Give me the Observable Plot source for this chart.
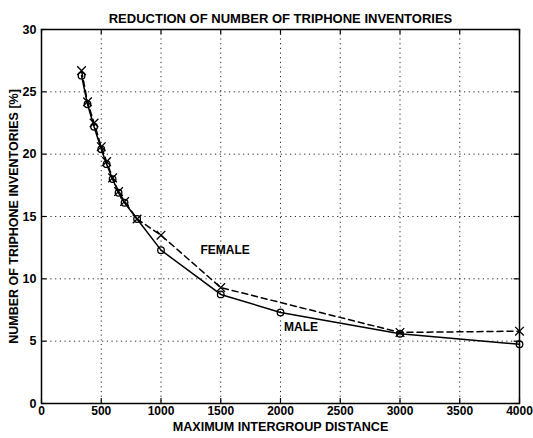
<!DOCTYPE html>
<html>
<head>
<meta charset="utf-8">
<script src="https://cdn.jsdelivr.net/npm/d3@7"></script>
<script src="https://cdn.jsdelivr.net/npm/@observablehq/plot@0.6"></script>
<style>
  html, body { margin: 0; padding: 0; background: #fff; }
</style>
</head>
<body>
<div id="chart"></div>
<script>
// Data
const maleDistance   = [335, 385, 440, 500, 545, 595, 645, 695, 800, 1000, 1500, 2000, 3000, 4000];
const malePercent    = [26.3, 24.0, 22.2, 20.4, 19.2, 18.0, 16.9, 16.1, 14.8, 12.3, 8.75, 7.3, 5.6, 4.75];
const femaleDistance = [335, 385, 440, 500, 545, 595, 645, 695, 800, 1000, 1500, 3000, 4000];
const femalePercent  = [26.7, 24.2, 22.5, 20.6, 19.4, 18.1, 17.0, 16.2, 14.8, 13.5, 9.3, 5.7, 5.8];
const xTicks = [0, 500, 1000, 1500, 2000, 2500, 3000, 3500, 4000];
const yTicks = [0, 5, 10, 15, 20, 25, 30];
const titleText = "REDUCTION OF NUMBER OF TRIPHONE INVENTORIES";
const xLabelText = "MAXIMUM INTERGROUP DISTANCE";
const yLabelText = "NUMBER OF TRIPHONE INVENTORIES [%]";
const seriesLabels = [
  {text: "FEMALE", x: 1330, y: 12.3},
  {text: "MALE", x: 2030, y: 6.1}
];

const male = maleDistance.map((d, i) => ({x: d, y: malePercent[i]}));
const female = femaleDistance.map((d, i) => ({x: d, y: femalePercent[i]}));

const font = "Liberation Sans, Arial, Helvetica, sans-serif";
const fmt = d3.format("d");

const chart = Plot.plot({
  width: 533,
  height: 438,
  marginLeft: 41,
  marginRight: 14,
  marginTop: 29,
  marginBottom: 35,
  style: {fontFamily: font, fontSize: "12px", fontWeight: "bold", color: "black", background: "white"},
  x: {domain: [0, 4000]},
  y: {domain: [0, 30]},
  marks: [
    Plot.gridX(xTicks, {stroke: "black", strokeOpacity: 0.85, strokeDasharray: "1.2,3.5", strokeWidth: 1}),
    Plot.gridY(yTicks, {stroke: "black", strokeOpacity: 0.85, strokeDasharray: "1.2,3.5", strokeWidth: 1}),
    // inward tick marks
    Plot.ruleX(xTicks, {x: d => d, y1: 0, y2: 0.4, stroke: "black", strokeWidth: 1.2}),
    Plot.ruleX(xTicks, {x: d => d, y1: 30, y2: 29.6, stroke: "black", strokeWidth: 1.2}),
    Plot.ruleY(yTicks, {y: d => d, x1: 0, x2: 45, stroke: "black", strokeWidth: 1.2}),
    Plot.ruleY(yTicks, {y: d => d, x1: 4000, x2: 3955, stroke: "black", strokeWidth: 1.2}),
    Plot.frame({stroke: "black", strokeWidth: 1.5}),
    Plot.axisX(xTicks, {tickSize: 0, tickPadding: 3, label: null, tickFormat: fmt, fontSize: 12}),
    Plot.axisY(yTicks, {tickSize: 0, tickPadding: 5, label: null, tickFormat: fmt, fontSize: 12.5}),
    Plot.line(female, {x: "x", y: "y", stroke: "black", strokeWidth: 1.5, strokeDasharray: "6,4"}),
    Plot.line(male, {x: "x", y: "y", stroke: "black", strokeWidth: 1.5}),
    Plot.dot(female, {x: "x", y: "y", symbol: "times", r: 4, stroke: "black", strokeWidth: 1.3}),
    Plot.dot(male, {x: "x", y: "y", symbol: "circle", r: 3.3, stroke: "black", fill: "none", strokeWidth: 1.3}),
    Plot.text(seriesLabels, {x: "x", y: "y", text: "text", textAnchor: "start", fontSize: 12, fill: "black"}),
    Plot.text([titleText], {text: d => d, frameAnchor: "top", textAnchor: "middle", dy: -16, fontSize: 13, fill: "black"}),
    Plot.text([xLabelText], {text: d => d, frameAnchor: "bottom", textAnchor: "middle", dy: 27, fontSize: 12.6, fill: "black"}),
    Plot.text([yLabelText], {text: d => d, frameAnchor: "left", textAnchor: "middle", dx: -28, rotate: -90, fontSize: 12.5, fill: "black"})
  ]
});

document.getElementById("chart").appendChild(chart);
</script>
</body>
</html>
